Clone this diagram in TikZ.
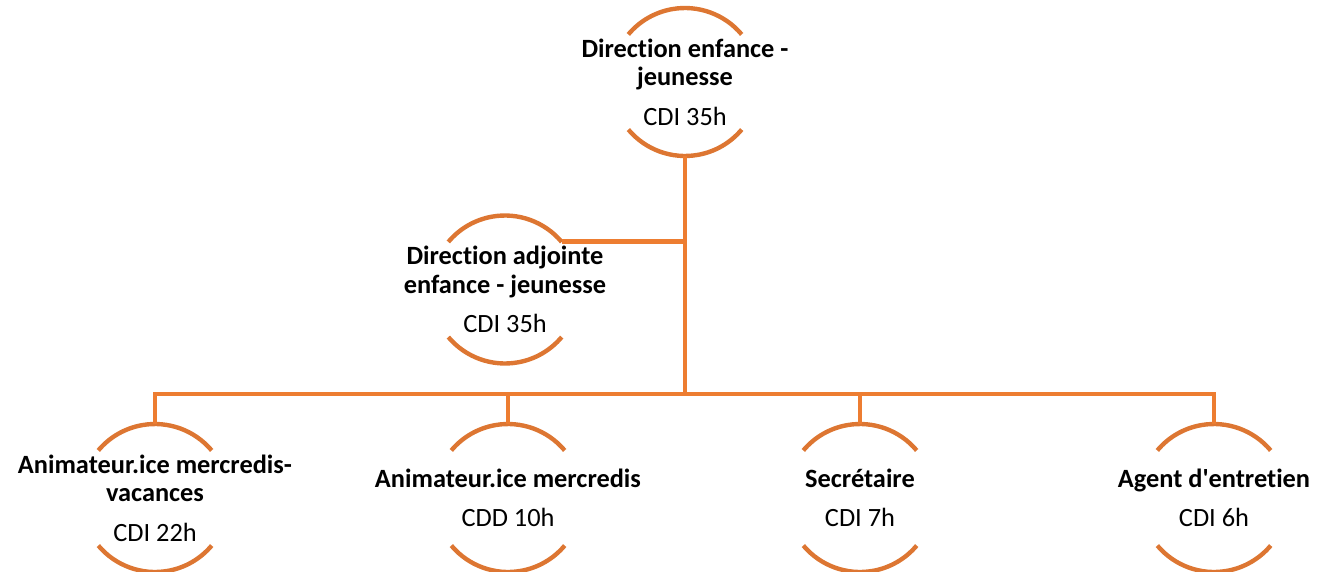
\documentclass[tikz,border=0pt]{standalone}
\usepackage{fontspec}
\setmainfont[Ligatures=NoCommon]{Carlito}
\definecolor{lineorange}{HTML}{ED7D31}
\definecolor{arcorange}{HTML}{DD7632}

\begin{document}
\begin{tikzpicture}[x=0.02cm,y=0.02cm]
    \tikzstyle{post}=[circle, minimum size=2.96cm, inner sep=0pt, outer sep=0pt]
    \tikzstyle{ring}=[draw=arcorange, line width=2.5pt]
    \tikzstyle{link}=[draw=lineorange, line width=2.8pt, line join=miter]
    \tikzstyle{txt}=[align=center, font=\fontsize{15}{16.4}\selectfont, inner sep=0pt]
    \useasboundingbox (0,0) rectangle (1317,-571);

    \node[post] (dir)    at (685,-82)    {};
    \node[post] (adj)    at (505,-289.5) {};
    \node[post] (anim1)  at (155,-498)   {};
    \node[post] (anim2)  at (508,-498)   {};
    \node[post] (secr)   at (860,-498)   {};
    \node[post] (agent)  at (1214,-498)  {};

    \foreach \n in {dir,adj,anim1,anim2,secr,agent} {
        \draw[ring] (\n.40) arc[start angle=40, end angle=140, radius=74];
        \draw[ring] (\n.220) arc[start angle=220, end angle=320, radius=74];
    }

    \coordinate (bus) at (685,-394);
    \draw[link] (dir.south) -- (dir.south |- bus);
    \draw[link] (adj.40) -- (adj.40 -| dir.south);
    \draw[link] (anim1.north) -- (anim1.north |- bus) -| (agent.north);
    \draw[link] (anim2.north) -- (anim2.north |- bus);
    \draw[link] (secr.north) -- (secr.north |- bus);

    \node[txt] (dirT)   at (dir)   {\textbf{Direction enfance -}\\\textbf{jeunesse}\\[6pt]CDI 35h};
    \node[txt] (adjT)   at (adj)   {\textbf{Direction adjointe}\\\textbf{enfance - jeunesse}\\[6pt]CDI 35h};
    \node[txt] (anim1T) at (anim1) {\textbf{Animateur.ice mercredis-}\\\textbf{vacances}\\[6pt]CDI 22h};
    \node[txt] (anim2T) at (anim2) {\textbf{Animateur.ice mercredis}\\[6pt]CDD 10h};
    \node[txt] (secrT)  at (secr)  {\textbf{Secrétaire}\\[6pt]CDI 7h};
    \node[txt] (agentT) at (agent) {\textbf{Agent d\textquotesingle entretien}\\[6pt]CDI 6h};
\end{tikzpicture}
\end{document}
